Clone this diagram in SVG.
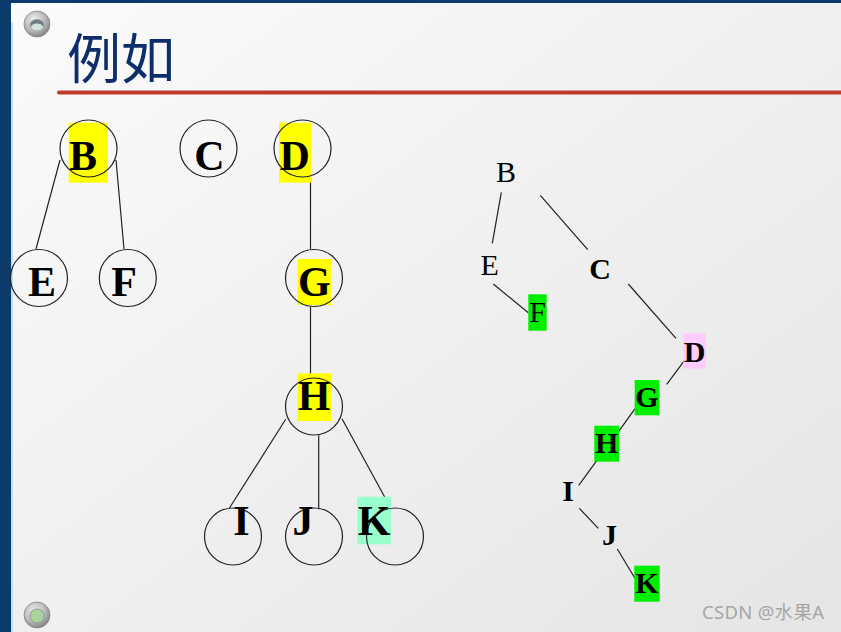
<svg xmlns="http://www.w3.org/2000/svg" width="841" height="632" viewBox="0 0 841 632">
<defs>
<linearGradient id="bg" x1="0" y1="0" x2="1" y2="1">
<stop offset="0" stop-color="#fbfbfb"/>
<stop offset="1" stop-color="#e5e5e5"/>
</linearGradient>
<radialGradient id="ring" cx="0.4" cy="0.35" r="0.7">
<stop offset="0" stop-color="#f2f2f2"/>
<stop offset="0.6" stop-color="#b8b8b8"/>
<stop offset="1" stop-color="#7a7a7a"/>
</radialGradient>
<style>
.c{fill:none;stroke:#222;stroke-width:1.2}
.e{stroke:#222;stroke-width:1.2;fill:none}
.lb{font-family:"Liberation Serif","Times New Roman",serif;font-weight:bold;font-size:42px;fill:#000}
.rb{font-family:"Liberation Serif","Times New Roman",serif;font-weight:bold;font-size:30px;fill:#000;text-anchor:middle}
.rr{font-family:"Liberation Serif","Times New Roman",serif;font-size:30px;fill:#000;text-anchor:middle}
.y{fill:#ffff00}
.g{fill:#00ee00}
</style>
</defs>
<rect x="0" y="0" width="841" height="632" fill="url(#bg)"/>
<rect x="0" y="0" width="841" height="3" fill="#0b3a6b"/>
<rect x="0" y="0" width="11" height="632" fill="#0b3a6b"/>
<rect x="11" y="22" width="2" height="610" fill="#bfe3e3"/>
<g id="ring-top">
<circle cx="37" cy="24" r="13" fill="url(#ring)" stroke="#888" stroke-width="0.8"/>
<ellipse cx="37" cy="25" rx="7" ry="5.5" fill="#6e7c80" stroke="#9a9a9a"/>
<ellipse cx="37" cy="27" rx="6" ry="3.5" fill="#cfe3df"/>
</g>
<g id="ring-bottom">
<circle cx="37" cy="615" r="13" fill="url(#ring)" stroke="#888" stroke-width="0.8"/>
<circle cx="37" cy="616" r="7" fill="#a9d49a" stroke="#8a9a8a"/>
</g>
<g id="title">
<text x="67" y="79" font-family="'Noto Sans CJK SC','Noto Sans',sans-serif" font-size="54" fill="#0d2d6b">例如</text>
<line x1="59" y1="92.5" x2="841" y2="92.5" stroke="#bd3a2c" stroke-width="4" stroke-linecap="round"/>
</g>
<g id="connectors">
<line class="e" x1="60" y1="160" x2="36" y2="249"/>
<line class="e" x1="116" y1="160" x2="124" y2="249"/>
<line class="e" x1="310.5" y1="176" x2="310.5" y2="249"/>
<line class="e" x1="310.5" y1="307" x2="310.5" y2="378"/>
<line class="e" x1="285.7" y1="419.3" x2="229.3" y2="508.3"/>
<line class="e" x1="318.7" y1="435.3" x2="318.7" y2="509.3"/>
<line class="e" x1="342" y1="418.7" x2="390" y2="506.7"/>
<line class="e" x1="501.3" y1="192.3" x2="492.3" y2="243.3"/>
<line class="e" x1="540.3" y1="195.3" x2="587.7" y2="249.7"/>
<line class="e" x1="493.3" y1="284" x2="528.3" y2="312.7"/>
<line class="e" x1="628.3" y1="284" x2="676" y2="338.3"/>
<line class="e" x1="685.3" y1="359.3" x2="666.7" y2="384.3"/>
<line class="e" x1="635" y1="408.7" x2="617.3" y2="433.3"/>
<line class="e" x1="597.7" y1="459.3" x2="578.7" y2="485.3"/>
<line class="e" x1="579.3" y1="508.3" x2="598.3" y2="528.3"/>
<line class="e" x1="617.3" y1="549" x2="636" y2="580"/>
</g>
<g id="L-B"><rect class="y" x="68.7" y="122.7" width="39.3" height="60"/><circle class="c" cx="88.5" cy="148.5" r="28.5"/><text class="lb" x="69" y="170">B</text></g>
<g id="L-C"><circle class="c" cx="208.5" cy="148.5" r="28.5"/><text class="lb" x="209.5" y="170" text-anchor="middle">C</text></g>
<g id="L-D"><rect class="y" x="279" y="122.7" width="32" height="60"/><circle class="c" cx="302.5" cy="148.5" r="28.5"/><text class="lb" x="279.5" y="170">D</text></g>
<g id="L-E"><circle class="c" cx="39" cy="278" r="28.5"/><text class="lb" x="42" y="296" text-anchor="middle">E</text></g>
<g id="L-F"><circle class="c" cx="127.8" cy="278" r="28.5"/><text class="lb" x="124" y="296" text-anchor="middle">F</text></g>
<g id="L-G"><rect class="y" x="297.7" y="259" width="33.3" height="46"/><circle class="c" cx="314" cy="278" r="28.5"/><text class="lb" x="298" y="296">G</text></g>
<g id="L-H"><rect class="y" x="297.3" y="373.3" width="34" height="47.7"/><circle class="c" cx="314" cy="406.5" r="28.5"/><text class="lb" x="314" y="410" text-anchor="middle">H</text></g>
<g id="L-I"><circle class="c" cx="233" cy="536.5" r="28.5"/><text class="lb" x="241.5" y="535" text-anchor="middle">I</text></g>
<g id="L-J"><circle class="c" cx="314" cy="536.5" r="28.5"/><text class="lb" x="303" y="535" text-anchor="middle">J</text></g>
<g id="L-K"><rect x="357.3" y="496.7" width="33.7" height="47.6" fill="#99ffcc"/><circle class="c" cx="395" cy="536.5" r="28.5"/><text class="lb" x="374" y="535" text-anchor="middle">K</text></g>
<g id="R-B"><text class="rr" x="506" y="182">B</text></g>
<g id="R-E"><text class="rr" x="489.7" y="275.3">E</text></g>
<g id="R-C"><text class="rb" x="600" y="278.7">C</text></g>
<g id="R-F"><rect class="g" x="528.3" y="294.3" width="18.4" height="36.4"/><text class="rr" x="537.5" y="322">F</text></g>
<g id="R-D"><rect x="683.3" y="333.3" width="22.7" height="35.4" fill="#ffccff"/><text class="rb" x="694.5" y="361.7">D</text></g>
<g id="R-G"><rect class="g" x="634.7" y="380" width="24.6" height="35.3"/><text class="rb" x="647" y="407.3">G</text></g>
<g id="R-H"><rect class="g" x="594.3" y="425.7" width="24.7" height="36"/><text class="rb" x="606.6" y="453.3">H</text></g>
<g id="R-I"><text class="rb" x="568" y="500.7">I</text></g>
<g id="R-J"><text class="rb" x="609.5" y="545">J</text></g>
<g id="R-K"><rect class="g" x="634.3" y="565.7" width="25.4" height="36"/><text class="rb" x="647" y="593.3">K</text></g>
<g id="watermark"><text x="702" y="619" textLength="122" font-family="'Noto Sans','Noto Sans CJK SC',sans-serif" font-size="18.5" fill="#a6a6a6">CSDN @水果A</text></g>
</svg>
